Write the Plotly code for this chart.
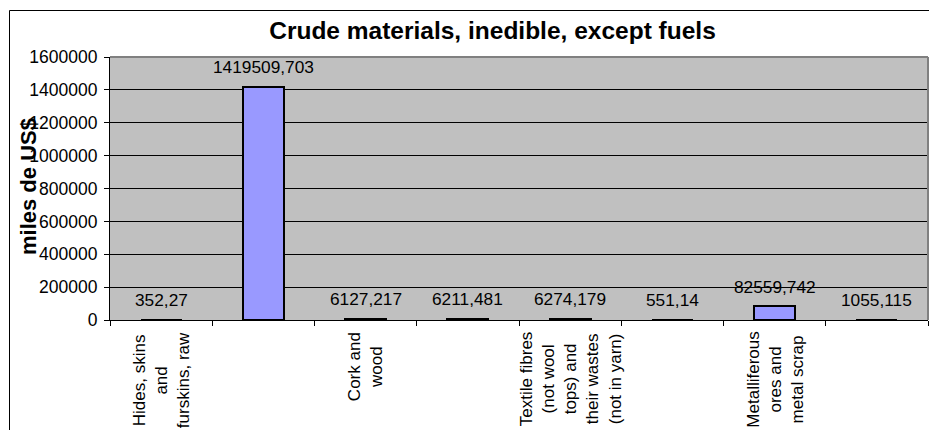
import plotly.graph_objects as go

# Export values by product group (thousands of US$)
labels = [
    "Hides, skins<br>and<br>furskins, raw",
    "",
    "Cork and<br>wood",
    "",
    "Textile fibres<br>(not wool<br>tops) and<br>their wastes<br>(not in yarn)",
    "",
    "Metalliferous<br>ores and<br>metal scrap",
    "",
]
values = [352.27, 1419509.703, 6127.217, 6211.481, 6274.179, 551.14, 82559.742, 1055.115]
y_ticks = [0, 200000, 400000, 600000, 800000, 1000000, 1200000, 1400000, 1600000]

title_text = "Crude materials, inedible, except fuels"
y_title = "miles de US$"

FONT = "Liberation Sans, Arial, sans-serif"
W, H = 929, 430
ML, MR, MT, MB = 110, 1, 57, 110
PW, PH = W - ML - MR, H - MT - MB

x_pos = list(range(len(values)))


def px_x(px):
    return (px - ML) / PW


def px_y(py):
    return (H - MB - py) / PH


fig = go.Figure()
fig.add_trace(go.Bar(
    x=x_pos, y=values, width=0.4,
    marker=dict(color="#9999FF", line=dict(color="black", width=2)),
    hoverinfo="skip",
))

annotations = []
# value labels above each bar, decimal comma
for xi, v in zip(x_pos, values):
    annotations.append(dict(
        x=xi, y=v, xref="x", yref="y", text=str(v).replace(".", ","),
        showarrow=False, yanchor="middle", yshift=19.5,
        font=dict(family=FONT, size=17.3, color="black"),
    ))
# rotated category labels under the axis
for xi, lab in zip(x_pos, labels):
    if not lab:
        continue
    annotations.append(dict(
        x=xi, y=0, xref="x", yref="paper", text=lab, textangle=-90,
        showarrow=False, yanchor="top", xanchor="center", align="center",
        yshift=-10, font=dict(family=FONT, size=17, color="black"),
    ))
# vertical axis title
annotations.append(dict(
    x=px_x(28), y=px_y(187), xref="paper", yref="paper", text=f"<b>{y_title}</b>",
    textangle=-90, showarrow=False, xanchor="center", yanchor="middle",
    font=dict(family=FONT, size=22, color="black"),
))

shapes = [
    # chart frame
    dict(type="rect", xref="paper", yref="paper",
         x0=px_x(9.5), y0=px_y(500), x1=px_x(1000), y1=px_y(10.5),
         line=dict(color="black", width=1), fillcolor="rgba(0,0,0,0)", layer="below"),
    # plot area border (top and right)
    dict(type="line", xref="paper", yref="paper", x0=0, x1=1, y0=1, y1=1,
         line=dict(color="#808080", width=2)),
    dict(type="line", xref="paper", yref="paper", x0=1, x1=1, y0=0, y1=1,
         line=dict(color="#808080", width=2)),
]

fig.update_layout(
    width=W, height=H,
    margin=dict(l=ML, r=MR, t=MT, b=MB),
    paper_bgcolor="white", plot_bgcolor="#C0C0C0",
    showlegend=False,
    bargap=0,
    title=dict(text=f"<b>{title_text}</b>", xref="container", yref="container",
               x=492.5 / W, y=1 - 30 / H, xanchor="center", yanchor="middle",
               font=dict(family=FONT, size=24.5, color="black")),
    font=dict(family=FONT, size=17.5, color="black"),
    annotations=annotations,
    shapes=shapes,
)
fig.update_xaxes(
    range=[-0.5, len(values) - 0.5],
    tickmode="array", tickvals=[i - 0.5 for i in range(len(values) + 1)],
    showticklabels=False, ticks="outside", ticklen=5, tickcolor="black", tickwidth=1,
    showgrid=False, zeroline=False, showline=True, linecolor="black", linewidth=1,
    fixedrange=True,
)
fig.update_yaxes(
    range=[0, 1600000], tickmode="array", tickvals=y_ticks,
    ticktext=[str(t) for t in y_ticks],
    ticks="outside", ticklen=5, tickcolor="black", tickwidth=1,
    ticklabelstandoff=3,
    showgrid=True, gridcolor="black", gridwidth=1,
    zeroline=False, showline=True, linecolor="black", linewidth=1,
    tickfont=dict(family=FONT, size=17.5, color="black"),
    fixedrange=True,
)

fig.write_html("out.html")
